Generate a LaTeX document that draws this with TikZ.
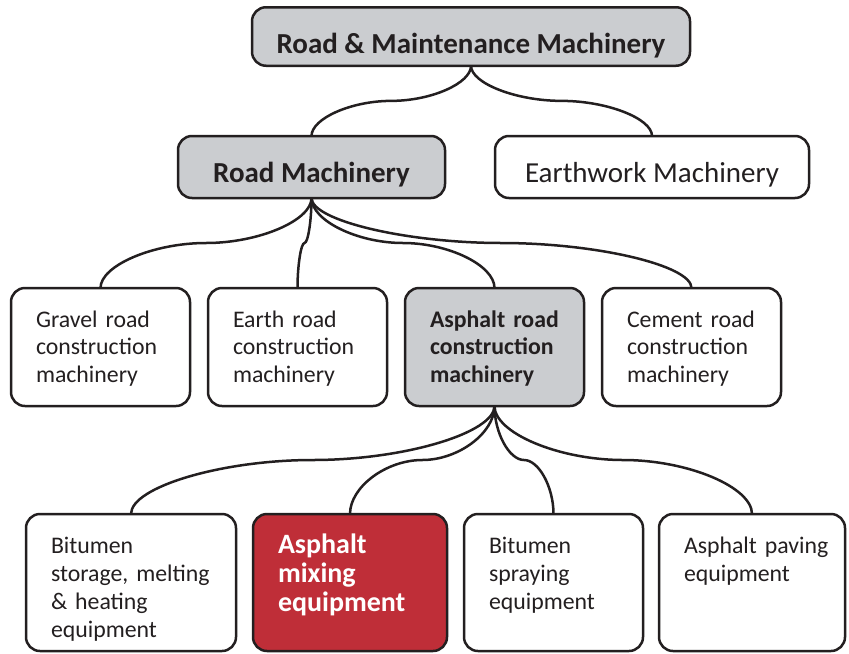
\documentclass[tikz,border=0pt]{standalone}
\usepackage{fontspec}
\setmainfont{Carlito}
\usetikzlibrary{positioning,calc}

\definecolor{ink}{HTML}{231F20}
\definecolor{boxgray}{HTML}{CBCDD0}
\definecolor{boxred}{HTML}{BF2E38}

\begin{document}
\begin{tikzpicture}[
            x = 0.5pt, y = -0.5pt,
            box/.style = {
                draw = ink, line width = 1.25pt,
                rounded corners = 7pt,
                outer sep = 0pt, inner ysep = 0pt,
                text = ink,
            },
            head/.style = {
                box, inner xsep = 6pt,
                text height = 23pt, text depth = 8pt,
                font = \fontsize{14.5}{17}\selectfont,
            },
            machine/.style = {
                box, align = left,
                text width = 64.5pt, inner xsep = 12.5pt,
                text height = 19.5pt, text depth = 39.5pt,
                font = \fontsize{11.9}{13.75}\selectfont,
            },
            equip/.style = {
                box, align = left,
                text width = #1, inner xsep = 12.5pt,
                text height = 19.5pt, text depth = 49pt,
                font = \fontsize{11.9}{14}\selectfont,
            },
            branch/.style = {
                draw = ink, line width = 1.25pt,
                to path = {
                    let \p1 = (\tikztostart), \p2 = (\tikztotarget),
                        \p3 = ($(\p1)!0.5!(\p2)$) in
                    .. controls (\x1, {(\y1+\y3)/2}) and ({(\x1+\x3)/2}, \y3) .. (\p3)
                    .. controls ({(\x3+\x2)/2}, \y3) and (\x2, {(\y3+\y2)/2}) .. (\p2)
                },
            },
        ]
        \useasboundingbox (0,0) rectangle (849,653);

        % Top levels
        \node[head, fill = boxgray, minimum width = 219pt, text depth = 6.25pt,
              font = \bfseries\fontsize{14.5}{17}\selectfont] (top) at (471,36.5)
            {Road \& Maintenance Machinery};
        \node[head, fill = boxgray, minimum width = 133.5pt,
              font = \bfseries\fontsize{14.5}{17}\selectfont] (road) at (311.5,167)
            {Road Machinery};
        \node[head, minimum width = 157pt, right = 25pt of road] (earth)
            {Earthwork Machinery};

        % Road machinery
        \node[machine] (gravel) at (100.5,347) {Gravel road\\ construction\\ machinery};
        \node[machine, right = 9pt of gravel] (earthroad) {Earth road\\ construction\\ machinery};
        \node[machine, fill = boxgray, font = \bfseries\fontsize{11.9}{13.75}\selectfont,
              right = 9pt of earthroad] (asphaltroad) {Asphalt road\\ construction\\ machinery};
        \node[machine, right = 9pt of asphaltroad] (cement) {Cement road\\ construction\\ machinery};

        % Asphalt road equipment
        \node[equip = 80pt] (storage) at (131,582.5)
            {Bitumen\\ storage, melting\\ \& heating\\ equipment};
        \node[equip = 72pt, fill = boxred, text = white,
              font = \bfseries\fontsize{14}{14.5}\selectfont,
              right = 8.5pt of storage] (mixing) {Asphalt\\ mixing\\ equipment};
        \node[equip = 64.5pt, right = 8.5pt of mixing] (spraying)
            {Bitumen\\ spraying\\ equipment};
        \node[equip = 68pt, right = 8pt of spraying] (paving)
            {Asphalt~paving\\ equipment};

        % Links
        \path[branch]
            (top.south) edge (road.north) edge (earth.north)
            (road.south) edge (gravel.north) edge (earthroad.north)
                edge (asphaltroad.north) edge (cement.north)
            (asphaltroad.south) edge (storage.north) edge (mixing.north)
                edge (spraying.north) edge (paving.north);

    \end{tikzpicture}
\end{document}
